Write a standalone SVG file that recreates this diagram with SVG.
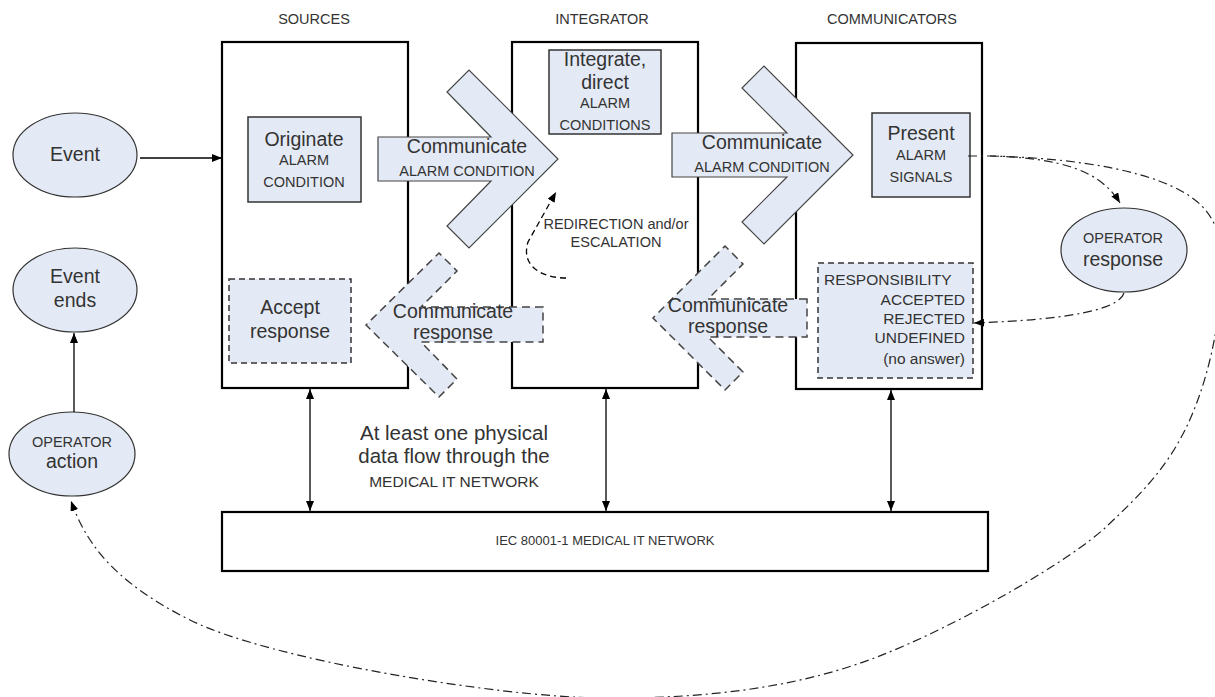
<svg xmlns="http://www.w3.org/2000/svg" width="1215" height="697" viewBox="0 0 1215 697">
<defs>
<marker id="arr" viewBox="0 0 10 8" refX="10" refY="4" markerWidth="10" markerHeight="8" markerUnits="userSpaceOnUse" orient="auto-start-reverse"><path d="M0,0 L10,4 L0,8 z" fill="#000"/></marker>
<style>
text{font-family:"Liberation Sans",Arial,sans-serif;fill:#333;text-anchor:middle}
.big{font-size:19.5px}
.sm{font-size:14.5px}
.main{fill:#fff;stroke:#000;stroke-width:2.2}
.inner{fill:#e4eaf5;stroke:#333;stroke-width:1.5}
.dinner{fill:#e4eaf5;stroke:#333;stroke-width:1.5;stroke-dasharray:6 4}
.chev{fill:#e4eaf5;stroke:#444;stroke-width:1.2}
.dchev{fill:#e4eaf5;stroke:#444;stroke-width:1.5;stroke-dasharray:8 5}
.ell{fill:#e4eaf5;stroke:#333;stroke-width:1.2}
.ln{fill:none;stroke:#000;stroke-width:1.3}
.dd{fill:none;stroke:#222;stroke-width:1.2;stroke-dasharray:9 4 2 4}
.dsh{fill:none;stroke:#000;stroke-width:1.3;stroke-dasharray:6 4}
</style>
</defs>
<rect width="1215" height="697" fill="#fff"/>

<g id="headers">
<text class="sm" x="314" y="24">SOURCES</text>
<text class="sm" x="602" y="24">INTEGRATOR</text>
<text class="sm" x="892" y="24">COMMUNICATORS</text>
</g>

<g id="sources"><rect class="main" x="222" y="42" width="186" height="346"/></g>
<g id="integrator"><rect class="main" x="512" y="42" width="186" height="346"/></g>
<g id="communicators"><rect class="main" x="796" y="43" width="186" height="346"/></g>
<g id="network">
<rect class="main" x="222" y="512" width="766" height="59"/>
<text x="605" y="545" style="font-size:13px">IEC 80001-1 MEDICAL IT NETWORK</text>
</g>

<g id="event">
<ellipse class="ell" cx="75" cy="155" rx="62" ry="42"/>
<text class="big" x="75" y="161">Event</text>
</g>
<g id="event-ends">
<ellipse class="ell" cx="75" cy="290" rx="62" ry="42"/>
<text class="big" x="75" y="283">Event</text>
<text class="big" x="75" y="307">ends</text>
</g>
<g id="operator-action">
<ellipse class="ell" cx="72" cy="454" rx="63" ry="42"/>
<text class="sm" x="72" y="447">OPERATOR</text>
<text class="big" x="72" y="468">action</text>
</g>
<g id="operator-response">
<ellipse class="ell" cx="1124" cy="250" rx="63" ry="42"/>
<text class="sm" x="1123" y="243">OPERATOR</text>
<text class="big" x="1123" y="266">response</text>
</g>

<g id="originate">
<rect class="inner" x="248" y="117" width="113" height="85"/>
<text class="big" x="304" y="146">Originate</text>
<text class="sm" x="304" y="165">ALARM</text>
<text class="sm" x="304" y="187">CONDITION</text>
</g>
<g id="accept">
<rect class="dinner" x="229" y="279" width="122" height="84"/>
<text class="big" x="290" y="314">Accept</text>
<text class="big" x="290" y="338">response</text>
</g>
<g id="integrate">
<rect class="inner" x="549" y="50" width="112" height="84"/>
<text class="big" x="605" y="66">Integrate,</text>
<text class="big" x="605" y="89">direct</text>
<text class="sm" x="605" y="108">ALARM</text>
<text class="sm" x="605" y="130">CONDITIONS</text>
</g>
<g id="redirection">
<text class="sm" x="616" y="229">REDIRECTION and/or</text>
<text class="sm" x="616" y="247">ESCALATION</text>
</g>
<g id="present">
<rect class="inner" x="872" y="113" width="98" height="84"/>
<text class="big" x="921" y="140">Present</text>
<text class="sm" x="921" y="160">ALARM</text>
<text class="sm" x="921" y="182">SIGNALS</text>
</g>
<g id="responsibility">
<rect class="dinner" x="818" y="263" width="155" height="115"/>
<g style="font-size:15.5px">
<text x="824" y="285" style="text-anchor:start">RESPONSIBILITY</text>
<text x="965" y="305" style="text-anchor:end">ACCEPTED</text>
<text x="965" y="324" style="text-anchor:end">REJECTED</text>
<text x="965" y="343" style="text-anchor:end">UNDEFINED</text>
<text x="965" y="364" style="text-anchor:end">(no answer)</text>
</g>
</g>

<g id="comm-alarm-1">
<polygon class="chev" points="378,137 491,137 447,92 469,70 558,159 469,248 447,226 491,181 378,181"/>
<text class="big" x="467" y="153">Communicate</text>
<text class="sm" x="467" y="176">ALARM CONDITION</text>
</g>
<g id="comm-alarm-2">
<polygon class="chev" points="672,133 787,133 742,88 764,66 853,155 764,244 742,222 787,177 672,177"/>
<text class="big" x="762" y="149">Communicate</text>
<text class="sm" x="762" y="172">ALARM CONDITION</text>
</g>
<g id="comm-response-1">
<polygon class="dchev" points="543,307 421,307 457,271 439,253 366,325 439,397 457,379 421,342 543,342"/>
<text class="big" x="453" y="318">Communicate</text>
<text class="big" x="453" y="339">response</text>
</g>
<g id="comm-response-2">
<polygon class="dchev" points="807,299 708,299 743,264 725,246 653,318 725,390 743,372 708,337 807,337"/>
<text class="big" x="728" y="312">Communicate</text>
<text class="big" x="728" y="333">response</text>
</g>

<g id="note">
<text x="454" y="440" style="font-size:20.5px">At least one physical</text>
<text x="454" y="463" style="font-size:20.5px">data flow through the</text>
<text x="454" y="487" style="font-size:15.5px">MEDICAL IT NETWORK</text>
</g>

<g id="connectors">
<line class="ln" x1="140" y1="158" x2="222" y2="158" marker-end="url(#arr)"/>
<line class="ln" x1="74" y1="412" x2="74" y2="333" marker-end="url(#arr)"/>
<line class="ln" x1="310" y1="389" x2="310" y2="511" marker-start="url(#arr)" marker-end="url(#arr)"/>
<line class="ln" x1="606" y1="389" x2="606" y2="511" marker-start="url(#arr)" marker-end="url(#arr)"/>
<line class="ln" x1="891" y1="390" x2="891" y2="511" marker-start="url(#arr)" marker-end="url(#arr)"/>
<path class="dsh" d="M566,278 C545,278 520,268 528,242 L556,192" marker-end="url(#arr)"/>
<path class="dd" d="M968,156 L990,156 C1060,158 1100,170 1120,203" marker-end="url(#arr)"/>
<path class="dd" d="M990,156 C1080,158 1160,172 1195,200 C1215,215 1223,240 1222,265 C1221,330 1205,390 1185,430 S1140,495 1106,527 S960,625 877,657 S700,699 600,698 S270,660 190,620 S85,540 71,501" marker-end="url(#arr)"/>
<path class="dd" d="M1124,293 Q1116,318 974,323" marker-end="url(#arr)"/>
</g>
</svg>
